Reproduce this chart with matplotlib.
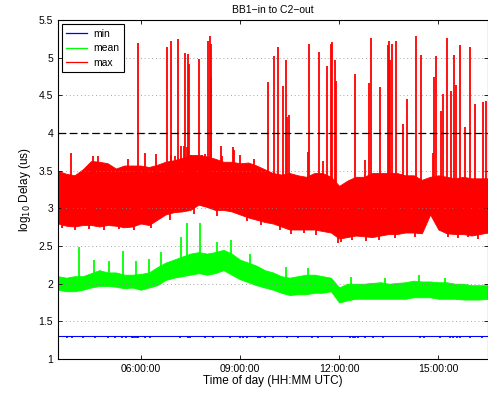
import matplotlib
matplotlib.use('Agg')
import matplotlib.pyplot as plt
import numpy as np

plt.rcParams['font.family'] = ['Liberation Sans', 'DejaVu Sans']

# time of day in hours UTC, 15 minute steps from 03:30 to 16:30
hours = np.arange(3.5, 16.51, 0.25)

# envelope of the max series (log10 us)
max_hi = [3.50, 3.46, 3.44, 3.52, 3.63, 3.62, 3.60, 3.53, 3.57, 3.57, 3.57, 3.55, 3.58,
          3.62, 3.64, 3.67, 3.71, 3.71, 3.69, 3.66, 3.62, 3.62, 3.60, 3.61, 3.57, 3.52,
          3.47, 3.45, 3.47, 3.44, 3.42, 3.47, 3.47, 3.42, 3.30, 3.37, 3.42, 3.42, 3.47,
          3.47, 3.47, 3.47, 3.44, 3.44, 3.38, 3.42, 3.44, 3.42, 3.40, 3.42, 3.40, 3.40, 3.40]
max_lo = [2.80, 2.77, 2.76, 2.78, 2.78, 2.76, 2.78, 2.77, 2.75, 2.76, 2.80, 2.78, 2.85,
          2.92, 2.95, 2.96, 2.98, 3.05, 3.02, 2.98, 2.98, 2.96, 2.92, 2.88, 2.85, 2.82,
          2.80, 2.76, 2.72, 2.72, 2.72, 2.72, 2.70, 2.68, 2.60, 2.62, 2.64, 2.63, 2.62,
          2.64, 2.66, 2.66, 2.68, 2.68, 2.67, 2.92, 2.72, 2.67, 2.66, 2.66, 2.64, 2.66, 2.68]

# envelope of the mean series
mean_hi = [2.10, 2.08, 2.10, 2.10, 2.14, 2.18, 2.15, 2.15, 2.12, 2.12, 2.13, 2.15, 2.22,
           2.28, 2.32, 2.36, 2.40, 2.42, 2.40, 2.42, 2.45, 2.40, 2.32, 2.28, 2.24, 2.18,
           2.15, 2.10, 2.08, 2.10, 2.12, 2.12, 2.10, 2.08, 1.95, 2.00, 2.00, 2.00, 2.01,
           2.02, 2.00, 2.01, 2.02, 2.04, 2.03, 2.03, 2.02, 2.02, 2.00, 2.00, 1.98, 1.98, 1.98]
mean_lo = [1.92, 1.90, 1.90, 1.92, 1.95, 1.97, 1.97, 1.96, 1.94, 1.95, 1.92, 1.95, 1.98,
           2.05, 2.08, 2.10, 2.12, 2.14, 2.12, 2.14, 2.18, 2.12, 2.06, 2.02, 1.98, 1.95,
           1.92, 1.88, 1.85, 1.86, 1.86, 1.88, 1.88, 1.90, 1.75, 1.78, 1.80, 1.80, 1.80,
           1.80, 1.80, 1.80, 1.80, 1.82, 1.82, 1.82, 1.80, 1.80, 1.80, 1.79, 1.79, 1.79, 1.80]

# isolated peaks of the max series
max_spike_t = [3.88, 4.55, 4.70, 5.62, 5.92, 6.14, 6.47, 6.79, 6.91, 6.93, 7.03, 7.14, 7.22,
               7.30, 7.35, 7.39, 7.44, 7.46, 7.52, 7.60, 7.77, 7.85, 7.93, 8.03, 8.09, 8.12,
               8.14, 8.42, 8.45, 8.78, 8.82, 8.99, 9.44, 9.86, 10.04, 10.14, 10.30, 10.40,
               10.42, 10.48, 11.05, 11.08, 11.38, 11.51, 11.63, 11.75, 11.77, 11.88, 11.90,
               12.47, 12.78, 12.91, 12.97, 13.24, 13.47, 13.51, 13.53, 13.61, 13.72, 13.94,
               14.05, 14.32, 14.47, 14.83, 14.88, 14.92, 15.08, 15.14, 15.25, 15.37, 15.47,
               15.53, 15.65, 15.81, 15.95, 16.11, 16.36, 16.43]
max_spike_v = [3.73, 3.70, 3.70, 3.65, 5.20, 3.73, 3.72, 5.15, 5.22, 3.71, 3.70, 5.25, 3.83,
               3.83, 5.06, 3.82, 5.05, 4.92, 3.71, 3.70, 4.99, 3.71, 3.72, 5.22, 5.29, 5.19,
               4.74, 3.83, 3.70, 3.81, 3.78, 3.71, 3.66, 4.68, 5.02, 5.15, 4.63, 4.97,
               4.22, 4.24, 3.75, 5.18, 5.08, 3.63, 4.89, 5.18, 5.21, 4.97, 4.69,
               4.78, 3.64, 4.66, 5.26, 4.61, 5.17, 5.22, 4.97, 5.19, 5.23, 4.12,
               4.46, 5.29, 5.04, 3.73, 4.75, 5.03, 4.30, 4.52, 5.26, 4.56, 5.04,
               4.64, 5.17, 4.08, 5.15, 4.39, 4.41, 4.43]

# short drops below the max band
max_dip_t = [3.62, 4.02, 4.45, 4.90, 5.35, 5.80, 6.30, 6.90, 7.60, 8.30, 9.20, 9.65, 10.20,
             10.55, 10.95, 11.30, 11.95, 12.05, 12.40, 12.80, 13.20, 13.70, 14.30, 15.30,
             15.60, 15.90, 16.20]
max_dip_v = [2.74, 2.72, 2.73, 2.72, 2.73, 2.71, 2.74, 2.85, 2.92, 2.90, 2.83, 2.78, 2.72,
             2.66, 2.67, 2.65, 2.54, 2.55, 2.58, 2.57, 2.58, 2.61, 2.62, 2.62,
             2.61, 2.62, 2.60]

# isolated peaks of the mean series
mean_spike_t = [4.13, 4.60, 5.05, 5.47, 5.85, 6.25, 6.62, 7.23, 7.41, 7.80, 8.30, 8.74,
                9.30, 10.40, 11.05, 12.35, 13.40, 14.41, 15.20]
mean_spike_v = [2.49, 2.32, 2.30, 2.44, 2.30, 2.33, 2.42, 2.62, 2.81, 2.81, 2.55, 2.58,
                2.40, 2.22, 2.21, 2.09, 2.08, 2.11, 2.08]

# min series: flat at log10(20 us) with short dips
min_level = 1.301
min_dip_t = [3.76, 3.91, 4.27, 4.62, 5.02, 5.22, 5.43, 5.56, 5.73, 5.78, 5.83, 5.88, 5.93,
             6.13, 6.28, 7.19, 7.44, 7.49, 7.95, 8.20, 8.70, 9.00, 9.10, 9.21, 9.56, 9.61,
             9.76, 10.01, 10.42, 10.77, 11.17, 11.37, 11.78, 12.33, 12.43, 12.48, 12.58,
             12.78, 13.03, 13.34, 14.45, 14.55, 15.05, 15.35, 15.45, 15.56, 15.66, 15.96, 16.31]
min_dip_v = 1.275

threshold = 4.0

fig = plt.figure(figsize=(4.89, 3.96), dpi=100)
ax = fig.add_axes([0.1186, 0.0934, 0.8794, 0.8556])

ax.fill_between(hours, max_lo, max_hi, color='r', lw=0.6)
ax.vlines(max_spike_t, np.interp(max_spike_t, hours, max_lo) + 0.2, max_spike_v, color='r', lw=1.3)
ax.vlines(max_dip_t, max_dip_v, np.interp(max_dip_t, hours, max_hi) - 0.2, color='r', lw=1.3)
ax.fill_between(hours, mean_lo, mean_hi, color='#00ff00', lw=0.6)
ax.vlines(mean_spike_t, np.interp(mean_spike_t, hours, mean_lo) + 0.05, mean_spike_v,
          color='#00ff00', lw=1.3)
ax.axhline(min_level, color='b', lw=0.8)
ax.vlines(min_dip_t, min_dip_v, min_level, color='b', lw=1.2)
ax.axhline(threshold, color='k', ls=(0, (6, 3)), lw=0.9)

h_min, = ax.plot([], [], color='b', lw=0.9, label='min')
h_mean, = ax.plot([], [], color='#00ff00', lw=0.9, label='mean')
h_max, = ax.plot([], [], color='r', lw=0.9, label='max')
leg = ax.legend(handles=[h_min, h_mean, h_max], loc='upper left', fontsize=7.5,
                fancybox=False, framealpha=1, edgecolor='k', handlelength=2.0,
                handletextpad=0.6, borderaxespad=0.4, labelspacing=0.45)
leg.get_frame().set_linewidth(0.8)

ax.set_xlim(3.5, 16.5)
ax.set_ylim(1, 5.5)
ax.set_xticks([6, 9, 12, 15])
ax.set_xticklabels(['06:00:00', '09:00:00', '12:00:00', '15:00:00'])
ax.set_yticks([1, 1.5, 2, 2.5, 3, 3.5, 4, 4.5, 5, 5.5])
ax.set_yticklabels(['1', '1.5', '2', '2.5', '3', '3.5', '4', '4.5', '5', '5.5'])
ax.tick_params(direction='in', top=True, right=True, labelsize=7.5, length=3, width=0.6)
ax.yaxis.grid(True, ls=(0, (1, 3.5)), color='#888888', lw=0.6)
for s in ax.spines.values():
    s.set_linewidth(0.8)

ax.set_title('BB1\u2212in to C2\u2212out', fontsize=7.5, pad=5)
ax.set_xlabel('Time of day (HH:MM UTC)', fontsize=8.5, labelpad=1)
ax.set_ylabel('log$_{10}$ Delay (us)', fontsize=8.5, labelpad=4)

fig.savefig('out.png', dpi=100)
